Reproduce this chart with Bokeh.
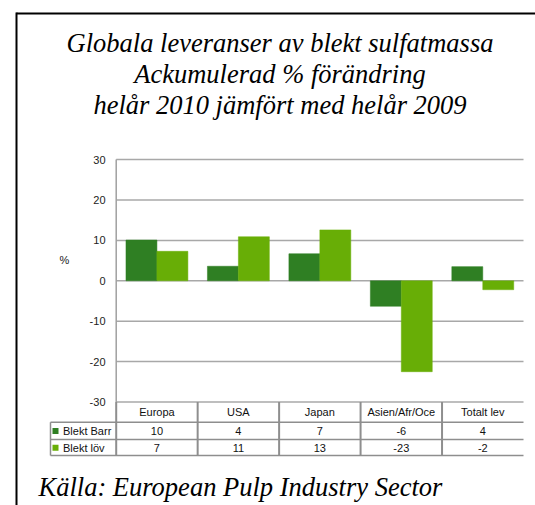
from bokeh.plotting import figure
from bokeh.models import Range1d
from bokeh.core.properties import value
from bokeh.embed import file_html
from bokeh.resources import INLINE

# ---------------- data ----------------
categories = ["Europa", "USA", "Japan", "Asien/Afr/Oce", "Totalt lev"]
series_names = ["Blekt Barr", "Blekt löv"]
barr = [10.1, 3.6, 6.7, -6.3, 3.5]
lov = [7.3, 10.9, 12.6, -22.5, -2.2]
barr_labels = ["10", "4", "7", "-6", "4"]
lov_labels = ["7", "11", "13", "-23", "-2"]
y_ticks = [-30, -20, -10, 0, 10, 20, 30]
title_lines = ["Globala leveranser av blekt sulfatmassa",
               "Ackumulerad % förändring",
               "helår 2010 jämfört med helår 2009"]
source_text = "Källa: European Pulp Industry Sector"
y_label = "%"

# ---------------- style ----------------
DARK = "#2f7f23"
LIGHT = "#68ae06"
GRID = "#a8a8a8"
TABLE = "#8e8e8e"
SANS = "Liberation Sans"
SERIF = "Liberation Serif"

# canvas geometry (pixels) -> data helpers, used only for layout
W, H = 535, 505
X0_PAGE, CAT_PX = 115.7, 81.46        # x of category 0 start, px per category
Y0_PAGE, UNIT_PX = 280.3, 4.04        # y of value 0, px per unit


def px(xp):
    return (xp - X0_PAGE) / CAT_PX


def py(yp):
    return (Y0_PAGE - yp) / UNIT_PX


n = len(categories)
p = figure(width=W, height=H, output_backend="svg", toolbar_location=None,
           x_range=Range1d(px(0), px(W)), y_range=Range1d(py(H), py(0)),
           x_axis_location=None, y_axis_location=None,
           min_border=0)
p.outline_line_color = None
p.grid.visible = False
p.background_fill_color = "white"
p.border_fill_color = "white"

# outer frame (left and top edges visible)
p.segment(x0=[px(16), px(16)], x1=[px(16), px(W + 5)],
          y0=[py(12), py(13)], y1=[py(H + 5), py(13)],
          line_color="black", line_width=2)

# gridlines at tick values
p.segment(x0=[0] * len(y_ticks), x1=[n] * len(y_ticks), y0=y_ticks, y1=y_ticks,
          line_color=GRID, line_width=1.5)

# bars
centers = [i + 0.5 for i in range(n)]
bw = 0.38
p.vbar(x=[c - bw / 2 for c in centers], top=barr, bottom=0, width=bw,
       fill_color=DARK, line_color=DARK, line_width=0.5)
p.vbar(x=[c + bw / 2 for c in centers], top=lov, bottom=0, width=bw,
       fill_color=LIGHT, line_color=LIGHT, line_width=0.5)

# value axis: line and tick labels
y_l3 = py(455)
p.segment(x0=[0], x1=[0], y0=[30], y1=[-30], line_color="#a0a0a0", line_width=1.5)
p.text(x=[px(105)] * len(y_ticks), y=y_ticks, text=[str(t) for t in y_ticks],
       text_font=value(SANS), text_font_size="11px", text_align="right",
       text_baseline="middle", text_color="#222222")
p.text(x=[px(64)], y=[py(259)], text=[y_label], text_font=value(SANS),
       text_font_size="11px", text_align="center", text_baseline="middle",
       text_color="#222222")

# ---------------- data table ----------------
y_head, y_r1, y_r2 = py(411.7), py(430.5), py(447.2)
y_l1, y_l2 = py(421.7), py(439)
x_left = px(50)

p.segment(x0=[x_left] * 3, x1=[n] * 3, y0=[y_l1, y_l2, y_l3], y1=[y_l1, y_l2, y_l3],
          line_color=TABLE, line_width=1.5)
p.segment(x0=list(range(n)), x1=list(range(n)), y0=[-30] * n, y1=[y_l3] * n,
          line_color=TABLE, line_width=2)
p.segment(x0=[x_left], x1=[x_left], y0=[y_l1], y1=[y_l3],
          line_color=TABLE, line_width=1.5)

txt = dict(text_font=value(SANS), text_font_size="11px", text_align="center",
           text_baseline="middle", text_color="#111111")
p.text(x=centers, y=[y_head] * n, text=categories, **txt)
p.text(x=centers, y=[y_r1] * n, text=barr_labels, **txt)
p.text(x=centers, y=[y_r2] * n, text=lov_labels, **txt)

p.scatter(x=[px(55)] * 2, y=[y_r1, y_r2], marker="square", size=6,
          fill_color=[DARK, LIGHT], line_color=None)
p.text(x=[px(62.5)] * 2, y=[y_r1, y_r2], text=series_names,
       text_font=value(SANS), text_font_size="11px", text_align="left",
       text_baseline="middle", text_color="#111111")

# ---------------- titles ----------------
p.text(x=[px(279.5)] * 3, y=[py(42.5), py(73.6), py(104.8)], text=title_lines,
       text_font=value(SERIF), text_font_style="italic", text_font_size="26.5px",
       text_align="center", text_baseline="middle", text_color="black")
p.text(x=[px(38)], y=[py(486)], text=[source_text],
       text_font=value(SERIF), text_font_style="italic", text_font_size="26.5px",
       text_align="left", text_baseline="middle", text_color="black")

open("out.html", "w").write(file_html(p, INLINE))
